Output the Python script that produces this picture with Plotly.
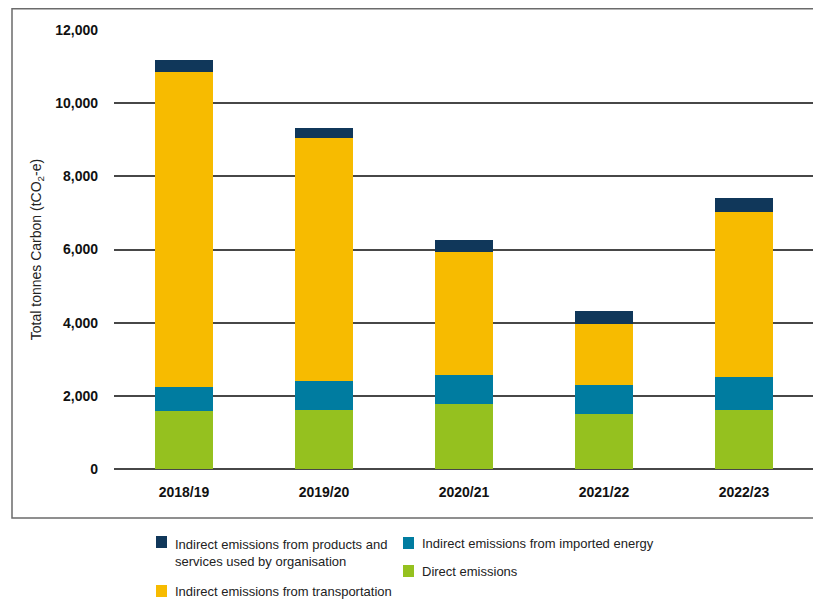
import plotly.graph_objects as go

years = ["2018/19", "2019/20", "2020/21", "2021/22", "2022/23"]
direct = [1585, 1613, 1785, 1512, 1613]
imported_energy = [657, 793, 785, 784, 902]
transportation = [8611, 6643, 3362, 1677, 4511]
products_services = [328, 273, 328, 346, 382]

series_names = [
    "Direct emissions",
    "Indirect emissions from imported energy",
    "Indirect emissions from transportation",
    "Indirect emissions from products and services used by organisation",
]
colors = ["#95c11f", "#007ca0", "#f7bb00", "#10375a"]
y_ticks = [0, 2000, 4000, 6000, 8000, 10000, 12000]

FONT = "Liberation Sans, Arial, sans-serif"

fig = go.Figure()
for name, vals, col in zip(series_names,
                           [direct, imported_energy, transportation, products_services],
                           colors):
    fig.add_trace(go.Bar(x=years, y=vals, name=name, marker_color=col,
                         marker_line_width=0, showlegend=False))

# page has an 8px body margin; figure drawn at (8, 8)
OFF = 8
W, H = 821 - OFF, 603 - OFF
PLOT_L, PLOT_R, PLOT_T, PLOT_B = 114, 814, 30, 469  # page pixels
ML = PLOT_L - OFF
MR = W - (PLOT_R - OFF)
MT = PLOT_T - OFF
MB = H - (PLOT_B - OFF)
PW = W - ML - MR
PH = H - MT - MB

def px_x(px):
    return (px - PLOT_L) / PW

def px_y(py):
    return (PLOT_B - py) / PH

shapes = [
    dict(type="rect", xref="paper", yref="paper",
         x0=px_x(12), x1=px_x(820), y0=px_y(518), y1=px_y(OFF + 0.8),
         line=dict(color="#6b6b6b", width=1.5), fillcolor="rgba(0,0,0,0)", layer="below"),
]
annotations = []

legend_items = [
    (colors[3], 156, 542, "Indirect emissions from products and<br>services used by organisation", 553),
    (colors[2], 156, 591, "Indirect emissions from transportation", 591),
    (colors[1], 403, 543, "Indirect emissions from imported energy", 543),
    (colors[0], 403, 571, "Direct emissions", 571),
]
for col, sx, sy, label, ty in legend_items:
    shapes.append(dict(type="rect", xref="paper", yref="paper",
                       x0=px_x(sx), x1=px_x(sx + 11), y0=px_y(sy + 6), y1=px_y(sy - 6),
                       line=dict(width=0), fillcolor=col))
    annotations.append(dict(xref="paper", yref="paper", x=px_x(sx + 17), y=px_y(ty),
                            xanchor="left", yanchor="middle", align="left",
                            text=label, showarrow=False,
                            font=dict(family=FONT, size=13, color="#222")))

fig.update_layout(
    width=W, height=H,
    margin=dict(l=ML, r=MR, t=MT, b=MB),
    barmode="stack", bargap=0.59,
    plot_bgcolor="white", paper_bgcolor="white",
    font=dict(family=FONT, size=13, color="#111"),
    shapes=shapes, annotations=annotations,
    xaxis=dict(showgrid=False, showline=False, ticks="", ticklabelstandoff=13,
               tickfont=dict(family=FONT, size=14, color="#111", weight="bold")),
    yaxis=dict(range=[0, 12000], tickvals=y_ticks, tickformat=",d",
               showgrid=True, gridcolor="#474747", gridwidth=1.5,
               zeroline=True, zerolinecolor="#474747", zerolinewidth=1.5,
               showline=False, ticks="", ticklabelstandoff=15,
               tickfont=dict(family=FONT, size=14, color="#111", weight="bold"),
               title=dict(text="Total tonnes Carbon (tCO<sub>2</sub>-e)", standoff=10,
                          font=dict(family=FONT, size=14, color="#222"))),
)

fig.write_html("out.html")
